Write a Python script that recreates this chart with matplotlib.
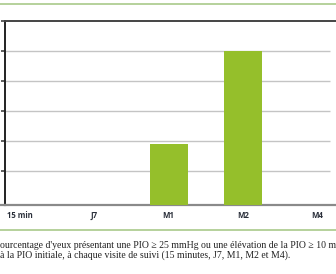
import matplotlib
matplotlib.use("Agg")
import matplotlib.pyplot as plt
from matplotlib.lines import Line2D

categories = ["15 min", "J7", "M1", "M2", "M4"]
values = [0, 0, 1.9, 5, 0]
yticks = [1, 2, 3, 4, 5, 6]
caption1 = "ourcentage d'yeux présentant une PIO ≥ 25 mmHg ou une élévation de la PIO ≥ 10 mmHg"
caption2 = "à la PIO initiale, à chaque visite de suivi (15 minutes, J7, M1, M2 et M4)."

W, H = 336, 274
fig = plt.figure(figsize=(W / 100, H / 100), dpi=100)

def fx(px):
    return px / W

def fy(py):
    return 1 - py / H

ax_left, ax_right, ax_top, ax_bot = 5, 336, 21, 205
ax = fig.add_axes([fx(ax_left), fy(ax_bot), fx(ax_right - ax_left), (ax_bot - ax_top) / H])

ymin, ymax = -0.12, 6
xmin = -0.195
xmax = xmin + (ax_right - ax_left) / 74.5
ax.set_xlim(xmin, xmax)
ax.set_ylim(ymin, ymax)

green = "#95bf2b"
x = list(range(len(categories)))
heights = [(v - ymin) if v > 0 else 0 for v in values]
ax.bar(x, heights, bottom=ymin, width=0.51, color=green, zorder=3)

grid_end = xmin + (330 - ax_left) / 74.5
for t in yticks[:-1]:
    ax.plot([xmin, grid_end], [t, t], color="#c4c4c4", lw=1.0, zorder=1, solid_capstyle="butt")

ax.spines["right"].set_visible(False)
ax.spines["left"].set_color("#222222")
ax.spines["left"].set_linewidth(1.4)
ax.spines["top"].set_color("#444444")
ax.spines["top"].set_linewidth(1.4)
ax.spines["bottom"].set_color("#8a8a8a")
ax.spines["bottom"].set_linewidth(1.6)

ax.set_yticks(yticks)
ax.set_yticklabels([])
ax.tick_params(axis="y", direction="out", length=3, width=1.2, color="#444444")
ax.set_xticks(x)
ax.set_xticklabels(categories, fontsize=5.6, color="#2a2f3a", fontweight="bold", family="Open Sans")
ax.tick_params(axis="x", length=0, pad=4)
ax.patch.set_alpha(0)

fig.add_artist(Line2D([fx(1), fx(ax_left)], [fy(205), fy(205)], color="#8a8a8a", lw=1.6))

fig.add_artist(Line2D([0, 1], [fy(3.5), fy(3.5)], color="#a9c98a", lw=1.2))
fig.add_artist(Line2D([0, 1], [fy(230), fy(230)], color="#a9c98a", lw=1.2))

fig.text(fx(0), fy(245), caption1, fontsize=7.0, family="Liberation Serif", color="#222222", va="center", ha="left")
fig.text(fx(0), fy(255.5), caption2, fontsize=7.0, family="Liberation Serif", color="#222222", va="center", ha="left")

fig.savefig("out.png", dpi=100)
